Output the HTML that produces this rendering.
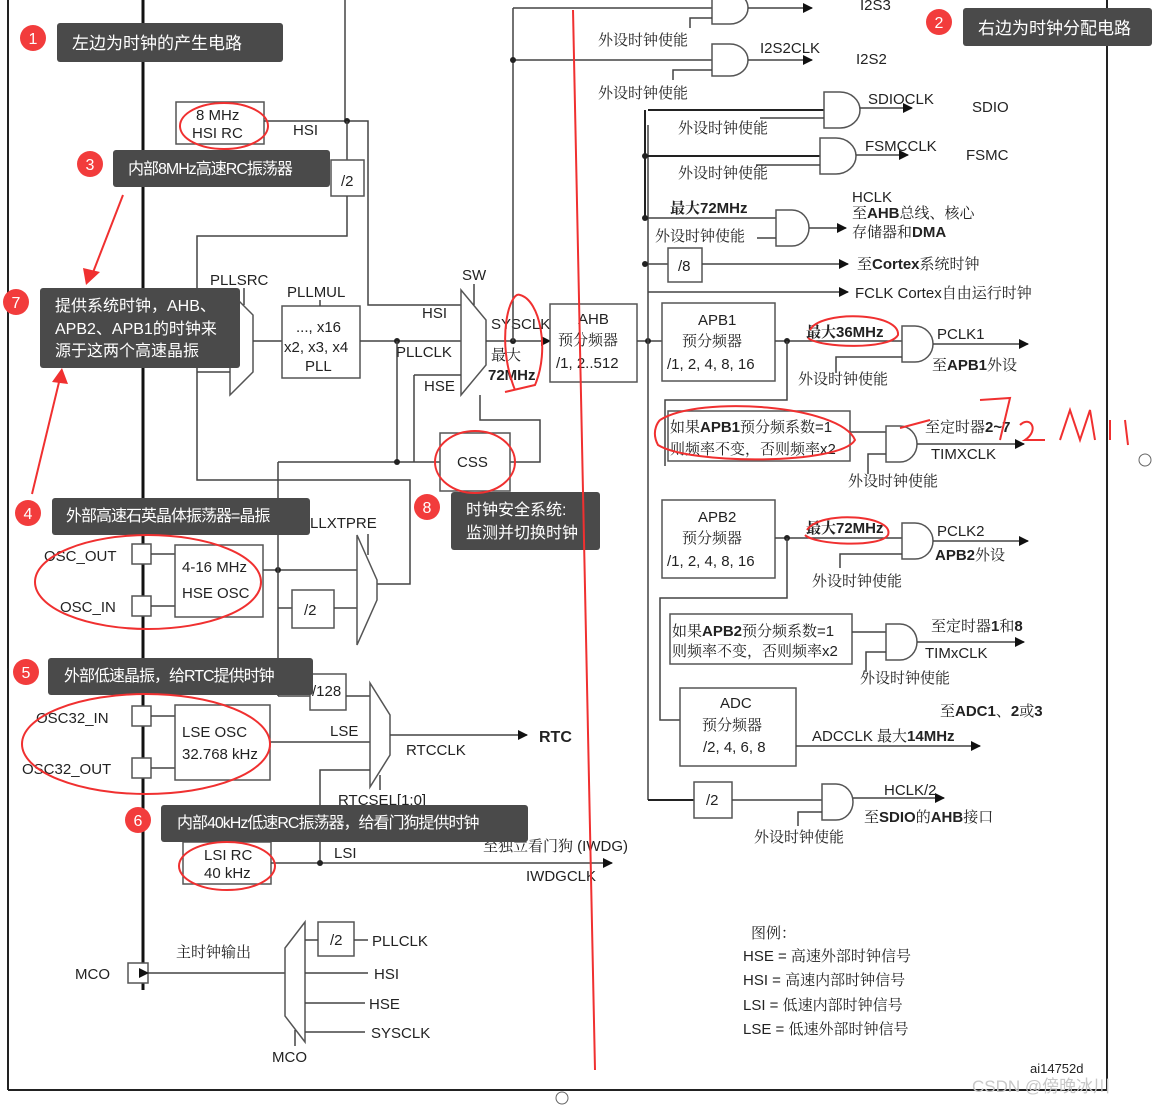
<!DOCTYPE html>
<html><head><meta charset="utf-8"><style>
html,body{margin:0;padding:0;background:#fff;}
svg{display:block;font-family:"Liberation Sans","Noto Sans CJK SC",sans-serif;}
.l{stroke:#444;stroke-width:1.5;fill:none}
.b{stroke:#222;stroke-width:2;fill:none}
.bx{stroke:#555;stroke-width:1.5;fill:#fff}
.r{stroke:#f03030;stroke-width:2;fill:none}
text{fill:#222;font-size:15px}
.cn{font-family:"Liberation Sans","Noto Serif CJK SC",serif;font-size:15px}
.tag{fill:#4a4a4a}
.tt{fill:#fff;font-size:17px;font-family:"Liberation Sans","Noto Sans CJK SC",sans-serif}
.nc{fill:#f23c3c}
.nt{fill:#fff;font-size:16px;text-anchor:middle}
</style></head><body>
<svg width="1152" height="1105" viewBox="0 0 1152 1105">
<defs><marker id="a" markerWidth="10" markerHeight="10" refX="9" refY="5" orient="auto" markerUnits="userSpaceOnUse"><path d="M0,0 L10,5 L0,10z" fill="#111"/></marker></defs>
<!-- frame -->
<line class="b" x1="8" y1="0" x2="8" y2="1090"/>
<line class="b" x1="8" y1="1090" x2="1108" y2="1090"/>
<line class="b" x1="1107" y1="0" x2="1107" y2="1090"/>
<line x1="143" y1="0" x2="143" y2="990" stroke="#111" stroke-width="3"/>
<line class="l" x1="345" y1="0" x2="345" y2="120"/>
<!-- HSI -->
<rect class="bx" x="176" y="102" width="88" height="42"/>
<text x="196" y="120">8 MHz</text><text x="192" y="138">HSI RC</text>
<polyline class="l" points="264,121 368,121 368,305 461,305"/>
<text x="293" y="135">HSI</text>
<circle cx="347" cy="121" r="3" fill="#222"/>
<line class="l" x1="347" y1="121" x2="347" y2="160"/>
<rect class="bx" x="331" y="160" width="33" height="36"/><text x="341" y="186">/2</text>
<polyline class="l" points="347,196 347,236 197,236 197,480 410,480 410,584 377,584"/>
<!-- PLLSRC mux -->
<polygon class="bx" points="230,292 253,315 253,372 230,395"/>
<text x="210" y="285">PLLSRC</text><line class="l" x1="244" y1="288" x2="244" y2="305"/>
<line class="l" x1="197" y1="312" x2="230" y2="312"/>
<line class="l" x1="197" y1="372" x2="230" y2="372"/>
<line class="l" x1="253" y1="341" x2="282" y2="341"/>
<rect class="bx" x="282" y="306" width="78" height="72"/>
<text x="296" y="332">..., x16</text><text x="284" y="352">x2, x3, x4</text><text x="305" y="371">PLL</text>
<text x="287" y="297">PLLMUL</text><line class="l" x1="320" y1="300" x2="320" y2="306"/>
<line class="l" x1="360" y1="341" x2="461" y2="341"/>
<circle cx="397" cy="341" r="3" fill="#222"/>
<text x="396" y="357">PLLCLK</text>
<line class="l" x1="397" y1="341" x2="397" y2="462"/>
<line class="l" x1="278" y1="462" x2="440" y2="462"/>
<circle cx="397" cy="462" r="3" fill="#222"/>
<text x="422" y="318">HSI</text>
<!-- SW mux -->
<polygon class="bx" points="461,290 486,320 486,365 461,395"/>
<text x="462" y="280">SW</text><line class="l" x1="474" y1="284" x2="474" y2="305"/>
<text x="424" y="391">HSE</text>
<polyline class="l" points="414,375 461,375"/>
<polyline class="l" points="414,375 414,462"/>
<line class="l" x1="486" y1="341" x2="550" y2="341" marker-end="url(#a)"/>
<text x="491" y="329">SYSCLK</text><text x="491" y="360" class="cn">最大</text><text x="488" y="380" style="font-weight:bold">72MHz</text>
<circle cx="513" cy="341" r="3" fill="#222"/>
<line class="l" x1="513" y1="8" x2="513" y2="341"/>
<line class="l" x1="513" y1="8" x2="712" y2="8"/>
<line class="l" x1="513" y1="60" x2="712" y2="60"/>
<circle cx="513" cy="60" r="3" fill="#222"/>
<polyline class="l" points="480,395 480,420 540,420 540,462 510,462"/>
<rect class="bx" x="440" y="433" width="70" height="58"/><text x="457" y="467">CSS</text>
<!-- AHB -->
<rect class="bx" x="550" y="304" width="87" height="78"/>
<text x="578" y="324">AHB</text><text x="558" y="345" class="cn">预分频器</text><text x="556" y="368">/1, 2..512</text>
<line class="l" x1="637" y1="341" x2="662" y2="341"/>
<circle cx="648" cy="341" r="3" fill="#222"/>
<line class="l" x1="648" y1="125" x2="648" y2="800"/>
<!-- I2S gates -->
<path class="bx" d="M712,-8 L730,-8 A18,16 0 0 1 730,24 L712,24 Z"/>
<line class="l" x1="748" y1="8" x2="812" y2="8" marker-end="url(#a)"/><text x="860" y="10">I2S3</text>
<polyline class="l" points="690,28 690,18 712,18"/>
<text x="598" y="45" class="cn">外设时钟使能</text>
<path class="bx" d="M712,44 L730,44 A18,16 0 0 1 730,76 L712,76 Z"/>
<line class="l" x1="748" y1="60" x2="812" y2="60" marker-end="url(#a)"/><text x="760" y="53">I2S2CLK</text><text x="856" y="64">I2S2</text>
<polyline class="l" points="673,80 673,70 712,70"/>
<text x="598" y="98" class="cn">外设时钟使能</text>
<!-- SDIO FSMC -->
<polyline class="b" points="648,110 824,110"/><line class="b" x1="645" y1="110" x2="645" y2="220"/>
<path class="bx" d="M824,92 L840,92 A20,18 0 0 1 840,128 L824,128 Z"/>
<line class="l" x1="760" y1="118" x2="824" y2="118"/>
<line class="l" x1="860" y1="108" x2="912" y2="108" marker-end="url(#a)"/><text x="868" y="104">SDIOCLK</text><text x="972" y="112">SDIO</text>
<text x="678" y="133" class="cn">外设时钟使能</text>
<line class="b" x1="645" y1="156" x2="820" y2="156"/><circle cx="645" cy="156" r="3" fill="#222"/>
<path class="bx" d="M820,138 L836,138 A20,18 0 0 1 836,174 L820,174 Z"/>
<line class="l" x1="756" y1="165" x2="820" y2="165"/>
<line class="l" x1="856" y1="155" x2="908" y2="155" marker-end="url(#a)"/><text x="865" y="151">FSMCCLK</text><text x="966" y="160">FSMC</text>
<text x="678" y="178" class="cn">外设时钟使能</text>
<line class="l" x1="645" y1="218" x2="776" y2="218"/><circle cx="645" cy="218" r="3" fill="#222"/>
<text x="670" y="213" class="cn" style="font-weight:bold">最大72MHz</text>
<path class="bx" d="M776,210 L792,210 A17,18 0 0 1 792,246 L776,246 Z"/>
<line class="l" x1="757" y1="238" x2="776" y2="238"/>
<text x="655" y="241" class="cn">外设时钟使能</text>
<line class="l" x1="809" y1="228" x2="846" y2="228" marker-end="url(#a)"/>
<text x="852" y="202">HCLK</text><text x="852" y="218" class="cn">至<tspan style="font-weight:bold">AHB</tspan>总线、核心</text><text x="852" y="237" class="cn">存储器和<tspan style="font-weight:bold">DMA</tspan></text>
<line class="l" x1="645" y1="264" x2="668" y2="264"/><circle cx="645" cy="264" r="3" fill="#222"/>
<rect class="bx" x="668" y="248" width="34" height="34"/><text x="678" y="271">/8</text>
<line class="l" x1="702" y1="264" x2="848" y2="264" marker-end="url(#a)"/><text x="857" y="269" class="cn">至<tspan style="font-weight:bold">Cortex</tspan>系统时钟</text>
<line class="l" x1="648" y1="292" x2="848" y2="292" marker-end="url(#a)"/><text x="855" y="298" class="cn">FCLK Cortex自由运行时钟</text>
<!-- APB1 -->
<rect class="bx" x="662" y="303" width="113" height="78"/>
<text x="698" y="325">APB1</text><text x="682" y="346" class="cn">预分频器</text><text x="667" y="369">/1, 2, 4, 8, 16</text>
<line class="l" x1="775" y1="341" x2="902" y2="341"/><circle cx="787" cy="341" r="3" fill="#222"/>
<text x="806" y="337" class="cn" style="font-weight:bold">最大36MHz</text>
<path class="bx" d="M902,326 L915,326 A18,18 0 0 1 915,362 L902,362 Z"/>
<polyline class="l" points="836,373 836,357 902,357"/>
<line class="l" x1="933" y1="344" x2="1028" y2="344" marker-end="url(#a)"/>
<text x="937" y="339">PCLK1</text><text x="932" y="370" class="cn">至<tspan style="font-weight:bold">APB1</tspan>外设</text>
<text x="798" y="384" class="cn">外设时钟使能</text>
<polyline class="l" points="787,341 787,400 665,400 665,466"/>
<rect class="bx" x="668" y="411" width="182" height="50"/>
<text x="670" y="432" class="cn">如果<tspan style="font-weight:bold">APB1</tspan>预分频系数=1</text><text x="670" y="454" class="cn">则频率不变，否则频率x2</text>
<line class="l" x1="850" y1="432" x2="886" y2="432"/>
<path class="bx" d="M886,426 L900,426 A17,18 0 0 1 900,462 L886,462 Z"/>
<polyline class="l" points="868,474 868,454 886,454"/>
<line class="l" x1="917" y1="444" x2="1024" y2="444" marker-end="url(#a)"/>
<text x="925" y="432" class="cn">至定时器<tspan style="font-weight:bold">2~7</tspan></text><text x="931" y="459">TIMXCLK</text>
<text x="848" y="486" class="cn">外设时钟使能</text>
<!-- APB2 -->
<rect class="bx" x="662" y="500" width="113" height="78"/>
<text x="698" y="522">APB2</text><text x="682" y="543" class="cn">预分频器</text><text x="667" y="566">/1, 2, 4, 8, 16</text>
<line class="l" x1="775" y1="538" x2="902" y2="538"/><circle cx="787" cy="538" r="3" fill="#222"/>
<text x="806" y="533" class="cn" style="font-weight:bold">最大72MHz</text>
<path class="bx" d="M902,523 L915,523 A18,18 0 0 1 915,559 L902,559 Z"/>
<polyline class="l" points="840,568 840,554 902,554"/>
<line class="l" x1="933" y1="541" x2="1028" y2="541" marker-end="url(#a)"/>
<text x="937" y="536">PCLK2</text><text x="935" y="560" class="cn" style="font-weight:bold">APB2<tspan style="font-weight:normal">外设</tspan></text>
<text x="812" y="586" class="cn">外设时钟使能</text>
<polyline class="l" points="787,538 787,598 660,598 660,720 680,720"/>
<rect class="bx" x="670" y="614" width="182" height="50"/>
<text x="672" y="636" class="cn">如果<tspan style="font-weight:bold">APB2</tspan>预分频系数=1</text><text x="672" y="656" class="cn">则频率不变，否则频率x2</text>
<line class="l" x1="852" y1="632" x2="886" y2="632"/>
<path class="bx" d="M886,624 L900,624 A17,18 0 0 1 900,660 L886,660 Z"/>
<polyline class="l" points="866,672 866,652 886,652"/>
<line class="l" x1="917" y1="642" x2="1024" y2="642" marker-end="url(#a)"/>
<text x="931" y="631" class="cn">至定时器<tspan style="font-weight:bold">1</tspan>和<tspan style="font-weight:bold">8</tspan></text><text x="925" y="658">TIMxCLK</text>
<text x="860" y="683" class="cn">外设时钟使能</text>
<rect class="bx" x="680" y="688" width="116" height="78"/>
<text x="720" y="708">ADC</text><text x="702" y="730" class="cn">预分频器</text><text x="703" y="752">/2, 4, 6, 8</text>
<line class="l" x1="796" y1="746" x2="980" y2="746" marker-end="url(#a)"/>
<text x="940" y="716" class="cn">至<tspan style="font-weight:bold">ADC1</tspan>、<tspan style="font-weight:bold">2</tspan>或<tspan style="font-weight:bold">3</tspan></text>
<text x="812" y="741" class="cn">ADCCLK 最大<tspan style="font-weight:bold">14MHz</tspan></text>
<line class="b" x1="648" y1="800" x2="694" y2="800"/>
<rect class="bx" x="694" y="782" width="38" height="36"/><text x="706" y="805">/2</text>
<line class="l" x1="732" y1="800" x2="822" y2="800"/>
<path class="bx" d="M822,784 L836,784 A17,18 0 0 1 836,820 L822,820 Z"/>
<polyline class="l" points="798,826 798,812 822,812"/>
<line class="l" x1="853" y1="798" x2="944" y2="798" marker-end="url(#a)"/>
<text x="884" y="795">HCLK/2</text><text x="864" y="822" class="cn">至<tspan style="font-weight:bold">SDIO</tspan>的<tspan style="font-weight:bold">AHB</tspan>接口</text>
<text x="754" y="842" class="cn">外设时钟使能</text>
<!-- HSE -->
<rect class="bx" x="132" y="544" width="19" height="20"/><rect class="bx" x="132" y="596" width="19" height="20"/>
<text x="44" y="561">OSC_OUT</text><text x="60" y="612">OSC_IN</text>
<line class="l" x1="151" y1="554" x2="175" y2="554"/><line class="l" x1="151" y1="606" x2="175" y2="606"/>
<rect class="bx" x="175" y="545" width="88" height="72"/>
<text x="182" y="572">4-16 MHz</text><text x="182" y="598">HSE OSC</text>
<line class="l" x1="263" y1="570" x2="357" y2="570"/><circle cx="278" cy="570" r="3" fill="#222"/>
<line class="l" x1="278" y1="462" x2="278" y2="696"/>
<polyline class="l" points="278,608 292,608"/>
<rect class="bx" x="292" y="590" width="42" height="38"/><text x="304" y="615">/2</text>
<line class="l" x1="334" y1="608" x2="357" y2="608"/>
<polygon class="bx" points="357,535 377,580 377,600 357,645"/>
<text x="300" y="528">PLLXTPRE</text><line class="l" x1="368" y1="534" x2="368" y2="555"/>
<!-- LSE -->
<rect class="bx" x="132" y="706" width="19" height="20"/><rect class="bx" x="132" y="758" width="19" height="20"/>
<text x="36" y="723">OSC32_IN</text><text x="22" y="774">OSC32_OUT</text>
<line class="l" x1="151" y1="716" x2="175" y2="716"/><line class="l" x1="151" y1="768" x2="175" y2="768"/>
<rect class="bx" x="175" y="705" width="95" height="75"/>
<text x="182" y="737">LSE OSC</text><text x="182" y="759">32.768 kHz</text>
<line class="l" x1="270" y1="742" x2="370" y2="742"/><text x="330" y="736">LSE</text>
<line class="l" x1="278" y1="696" x2="310" y2="696"/>
<rect class="bx" x="310" y="674" width="36" height="36"/><text x="312" y="696">/128</text>
<line class="l" x1="346" y1="696" x2="370" y2="696"/>
<polygon class="bx" points="370,683 390,715 390,755 370,787"/>
<line class="l" x1="390" y1="735" x2="527" y2="735" marker-end="url(#a)"/>
<text x="539" y="742" style="font-weight:bold;font-size:16px">RTC</text><text x="406" y="755">RTCCLK</text>
<text x="338" y="805">RTCSEL[1:0]</text><line class="l" x1="380" y1="775" x2="380" y2="790"/>
<polyline class="l" points="370,770 320,770 320,865"/>
<!-- LSI -->
<rect class="bx" x="183" y="842" width="88" height="42"/><text x="204" y="860">LSI RC</text><text x="204" y="878">40 kHz</text>
<line class="l" x1="271" y1="863" x2="612" y2="863" marker-end="url(#a)"/><circle cx="320" cy="863" r="3" fill="#222"/>
<text x="334" y="858">LSI</text><text x="483" y="851" class="cn">至独立看门狗 (IWDG)</text><text x="526" y="881">IWDGCLK</text>
<!-- MCO -->
<rect class="bx" x="128" y="963" width="20" height="20"/><text x="75" y="979">MCO</text>
<line class="l" x1="148" y1="973" x2="285" y2="973" marker-start="url(#a)"/>
<text x="176" y="957" class="cn">主时钟输出</text>
<polygon class="bx" points="305,922 285,948 285,1016 305,1042"/>
<text x="272" y="1062">MCO</text><line class="l" x1="295" y1="1030" x2="295" y2="1046"/>
<rect class="bx" x="318" y="922" width="36" height="34"/><text x="330" y="945">/2</text>
<polyline class="l" points="305,940 318,940"/><polyline class="l" points="354,940 368,940"/><text x="372" y="946">PLLCLK</text>
<line class="l" x1="305" y1="973" x2="368" y2="973"/><text x="374" y="979">HSI</text>
<line class="l" x1="305" y1="1003" x2="365" y2="1003"/><text x="369" y="1009">HSE</text>
<line class="l" x1="305" y1="1032" x2="365" y2="1032"/><text x="371" y="1038">SYSCLK</text>
<!-- legend -->
<text x="751" y="938" class="cn">图例：</text>
<text x="743" y="961" class="cn">HSE = 高速外部时钟信号</text>
<text x="743" y="985" class="cn">HSI = 高速内部时钟信号</text>
<text x="743" y="1010" class="cn">LSI = 低速内部时钟信号</text>
<text x="743" y="1034" class="cn">LSE = 低速外部时钟信号</text>
<text x="1030" y="1073" style="font-size:13px">ai14752d</text>
<text x="972" y="1092" style="font-size:17px;fill:#c8c8c8">CSDN @傍晚冰川</text>
<!-- tags -->
<rect class="tag" x="57" y="23" width="226" height="39" rx="3"/><text class="tt" x="72" y="49">左边为时钟的产生电路</text>
<circle class="nc" cx="33" cy="38" r="13"/><text class="nt" x="33" y="44">1</text>
<rect class="tag" x="963" y="8" width="189" height="38" rx="3"/><text class="tt" x="978" y="34">右边为时钟分配电路</text>
<circle class="nc" cx="939" cy="22" r="13"/><text class="nt" x="939" y="28">2</text>
<rect class="tag" x="113" y="150" width="217" height="37" rx="3"/><text class="tt" x="128" y="174" style="font-size:16px;letter-spacing:-1px">内部8MHz高速RC振荡器</text>
<circle class="nc" cx="90" cy="164" r="13"/><text class="nt" x="90" y="170">3</text>
<rect class="tag" x="40" y="288" width="200" height="80" rx="3"/>
<text class="tt" x="55" y="311" style="font-size:16px">提供系统时钟，AHB、</text><text class="tt" x="55" y="334" style="font-size:16px">APB2、APB1的时钟来</text><text class="tt" x="55" y="356" style="font-size:16px">源于这两个高速晶振</text>
<circle class="nc" cx="16" cy="302" r="13"/><text class="nt" x="16" y="308">7</text>
<rect class="tag" x="52" y="498" width="258" height="37" rx="3"/><text class="tt" x="66" y="521" style="font-size:16px;letter-spacing:-1px">外部高速石英晶体振荡器=晶振</text>
<circle class="nc" cx="28" cy="513" r="13"/><text class="nt" x="28" y="519">4</text>
<rect class="tag" x="48" y="658" width="265" height="37" rx="3"/><text class="tt" x="64" y="681" style="font-size:16px;letter-spacing:-1px">外部低速晶振，给RTC提供时钟</text>
<circle class="nc" cx="26" cy="672" r="13"/><text class="nt" x="26" y="678">5</text>
<rect class="tag" x="161" y="805" width="367" height="37" rx="3"/><text class="tt" x="177" y="828" style="font-size:16px;letter-spacing:-1px">内部40kHz低速RC振荡器，给看门狗提供时钟</text>
<circle class="nc" cx="138" cy="820" r="13"/><text class="nt" x="138" y="826">6</text>
<rect class="tag" x="451" y="492" width="149" height="58" rx="3"/><text class="tt" x="466" y="515" style="font-size:16px">时钟安全系统:</text><text class="tt" x="466" y="538" style="font-size:16px">监测并切换时钟</text>
<circle class="nc" cx="427" cy="507" r="13"/><text class="nt" x="427" y="513">8</text>
<!-- red annotations -->
<ellipse class="r" cx="224" cy="126" rx="44" ry="23"/>
<ellipse class="r" cx="148" cy="582" rx="113" ry="47"/>
<ellipse class="r" cx="146" cy="744" rx="124" ry="50"/>
<ellipse class="r" cx="227" cy="866" rx="48" ry="24"/>
<ellipse class="r" cx="475" cy="462" rx="40" ry="31"/>
<path class="r" d="M515,390 C495,340 510,290 520,295 C540,300 550,350 535,385 L505,392"/>
<path class="r" d="M810,330 C820,310 900,312 898,335 C890,350 820,348 808,338"/>
<path class="r" d="M660,420 C700,395 840,405 855,440 C840,465 690,465 658,445 C650,430 660,420 660,420"/>
<path class="r" d="M807,530 C820,510 895,515 888,535 C880,548 815,545 805,535"/>
<path class="r" d="M900,428 L930,420 M980,400 L1010,398 L1000,440 M1020,425 C1030,415 1040,430 1025,440 L1045,440 M1060,440 L1070,410 L1080,440 L1090,410 L1095,440 M1110,420 L1110,440 M1125,420 L1128,445" />
<line class="r" x1="573" y1="10" x2="595" y2="1070"/>
<line class="r" x1="123" y1="195" x2="92" y2="275"/><polygon points="86,285 83,268 100,272" fill="#f03030"/>
<line class="r" x1="32" y1="494" x2="60" y2="378"/><polygon points="62,368 68,384 52,382" fill="#f03030"/>
<circle cx="1145" cy="460" r="6" fill="#fff" stroke="#666"/>
<circle cx="562" cy="1098" r="6" fill="#fff" stroke="#666"/>
</svg>
</body></html>
